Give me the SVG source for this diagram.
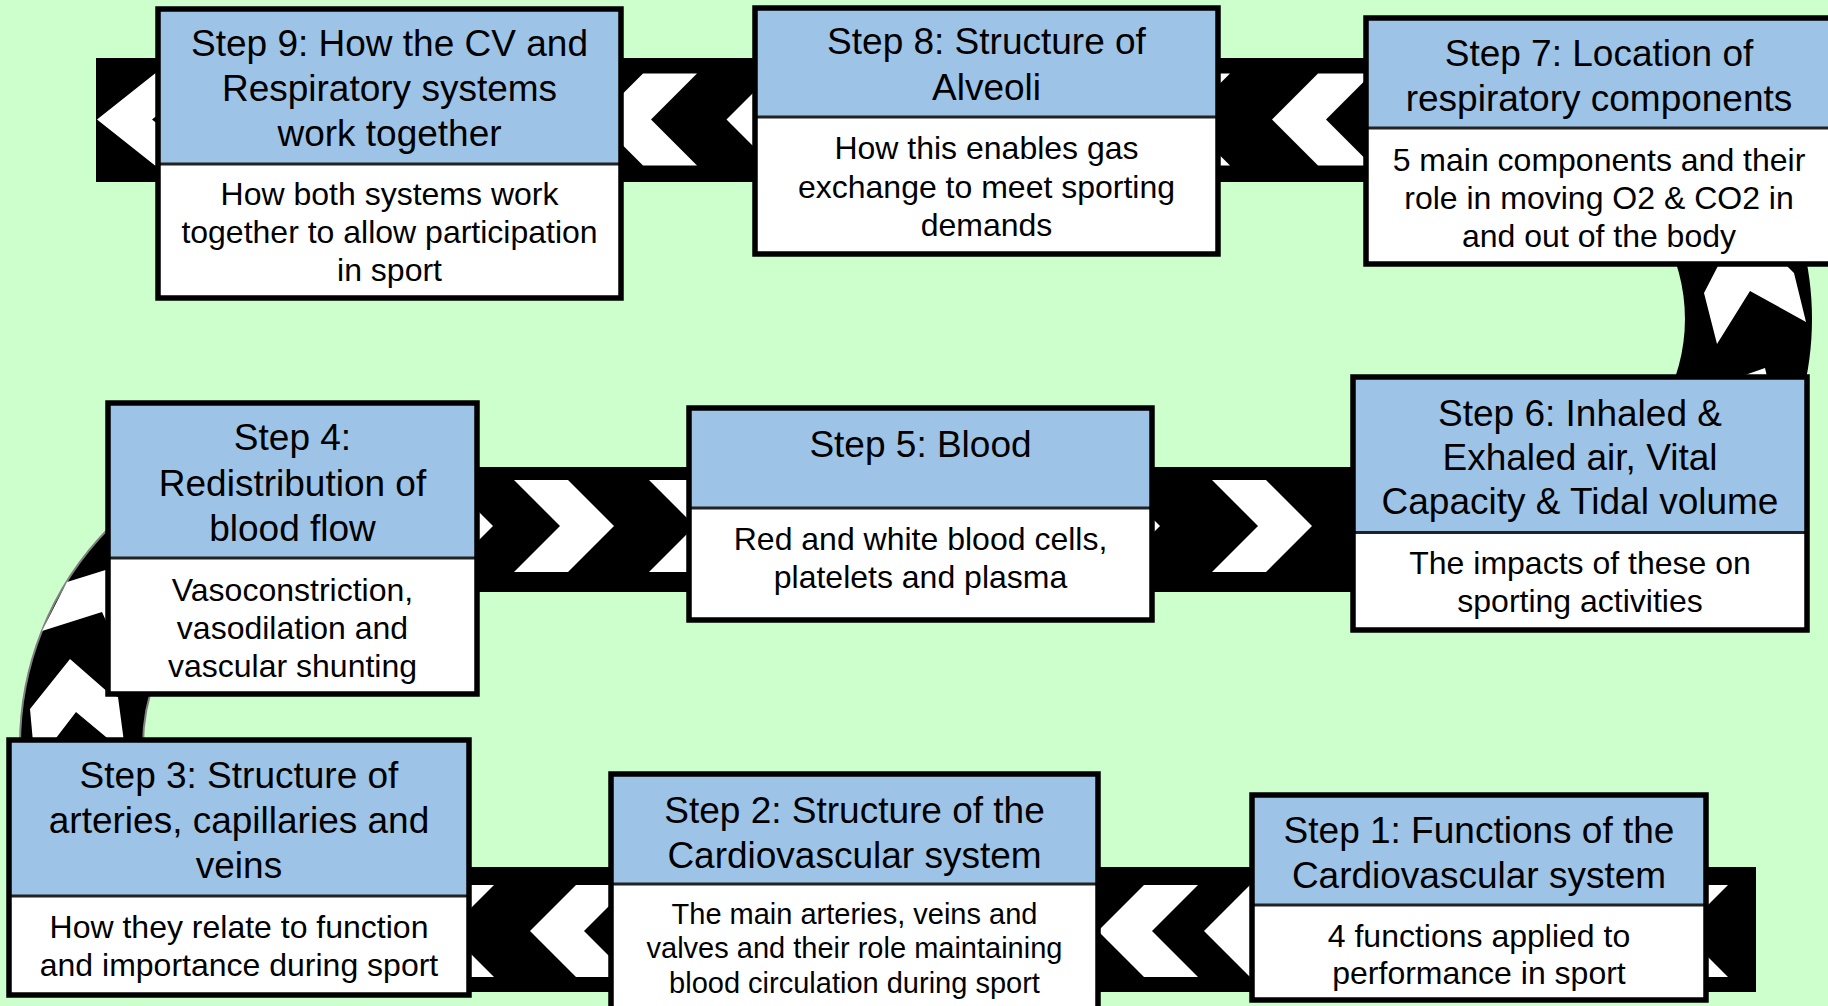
<svg xmlns="http://www.w3.org/2000/svg" width="1828" height="1006" viewBox="0 0 1828 1006">
<defs>
<style>
.band{fill:#000}
.chev{fill:#fff}
.arcg{fill:#000;stroke:#808080;stroke-width:2}
.hd{fill:#9DC3E6}
.bd{fill:#fff}
.sep{stroke:#222;stroke-width:3}
.frame{fill:none;stroke:#000;stroke-width:5.5}
.t{font-family:"Liberation Sans",Arial,sans-serif;font-size:37px;text-anchor:middle;fill:#000}
.b{font-family:"Liberation Sans",Arial,sans-serif;font-size:32px;text-anchor:middle;fill:#000}
.bs{font-size:29px}
</style>
</defs>
<rect width="1828" height="1006" fill="#CCFFCC"/>
<g id="connectors">
  <rect class="band" x="96" y="58" width="1290" height="124"/>
  <polygon class="chev" points="97,119.5 155,73.5 210,73.5 152,119.5 210,165.5 155,165.5"/>
  <polygon class="chev" points="597,119.5 643,73.5 697,73.5 651,119.5 697,165.5 643,165.5"/>
  <polygon class="chev" points="726.5,119.5 772.5,73.5 826.5,73.5 780.5,119.5 826.5,165.5 772.5,165.5"/>
  <polygon class="chev" points="1130,119.5 1176,73.5 1230,73.5 1184,119.5 1230,165.5 1176,165.5"/>
  <polygon class="chev" points="1272,119.5 1318,73.5 1372,73.5 1326,119.5 1372,165.5 1318,165.5"/>
  <path class="band" d="M 1659 54 A 306 306 0 0 1 1659 584 L 1595.5 474 A 179 179 0 0 0 1595.5 164 Z"/>
  <polygon class="chev" points="1720,262 1783,262 1794,273 1806,322 1750,291 1717,344 1704,293"/>
  <polygon class="chev" points="1728,381 1765,368 1768,381"/>
  <rect class="band" x="470" y="467" width="890" height="125"/>
  <polygon class="chev" points="393,480 447,480 493,526 447,572 393,572 439,526"/>
  <polygon class="chev" points="514,480 568,480 614,526 568,572 514,572 560,526"/>
  <polygon class="chev" points="649,480 703,480 749,526 703,572 649,572 695,526"/>
  <polygon class="chev" points="1060,480 1114,480 1160,526 1114,572 1060,572 1106,526"/>
  <polygon class="chev" points="1212,480 1266,480 1312,526 1266,572 1212,572 1258,526"/>
  <path class="arcg" d="M 20 745 A 309 309 0 0 1 329 436 L 329 559 A 186 186 0 0 0 143 745 Z"/>
  <polygon class="chev" points="67,582 112,568 112,634 102,612 42,631"/>
  <polygon class="chev" points="70,659 110,694 118,697 124,742 112,742 76,712 53,742 33,742 30,709"/>
  <rect class="band" x="400" y="867" width="1356" height="125"/>
  <polygon class="chev" points="394,931 440,885 494,885 448,931 494,977 440,977"/>
  <polygon class="chev" points="530,931 576,885 630,885 584,931 630,977 576,977"/>
  <polygon class="chev" points="1098,931 1144,885 1198,885 1152,931 1198,977 1144,977"/>
  <polygon class="chev" points="1204,931 1250,885 1304,885 1258,931 1304,977 1250,977"/>
  <polygon class="chev" points="1628,931 1674,885 1728,885 1682,931 1728,977 1674,977"/>
</g>

<g id="step9">
  <rect class="hd" x="158" y="9" width="463" height="155"/>
  <rect class="bd" x="158" y="164" width="463" height="134"/>
  <line class="sep" x1="158" y1="164" x2="621" y2="164"/>
  <rect class="frame" x="158" y="9" width="463" height="289"/>
  <text class="t" x="389.5" y="56">Step 9: How the CV and</text>
  <text class="t" x="389.5" y="101">Respiratory systems</text>
  <text class="t" x="389.5" y="146">work together</text>
  <text class="b" x="389.5" y="205">How both systems work</text>
  <text class="b" x="389.5" y="243">together to allow participation</text>
  <text class="b" x="389.5" y="281">in sport</text>
</g>

<g id="step8">
  <rect class="hd" x="755" y="8" width="463" height="109"/>
  <rect class="bd" x="755" y="117" width="463" height="137"/>
  <line class="sep" x1="755" y1="117" x2="1218" y2="117"/>
  <rect class="frame" x="755" y="8" width="463" height="246"/>
  <text class="t" x="986.5" y="54">Step 8: Structure of</text>
  <text class="t" x="986.5" y="100">Alveoli</text>
  <text class="b" x="986.5" y="159">How this enables gas</text>
  <text class="b" x="986.5" y="197.5">exchange to meet sporting</text>
  <text class="b" x="986.5" y="235.5">demands</text>
</g>

<g id="step7">
  <rect class="hd" x="1366" y="18" width="466" height="110"/>
  <rect class="bd" x="1366" y="128" width="466" height="136"/>
  <line class="sep" x1="1366" y1="128" x2="1832" y2="128"/>
  <rect class="frame" x="1366" y="18" width="466" height="246"/>
  <text class="t" x="1599" y="66">Step 7: Location of</text>
  <text class="t" x="1599" y="111">respiratory components</text>
  <text class="b" x="1599" y="171">5 main components and their</text>
  <text class="b" x="1599" y="209">role in moving O2 &amp; CO2 in</text>
  <text class="b" x="1599" y="246.5">and out of the body</text>
</g>

<g id="step6">
  <rect class="hd" x="1353" y="377" width="454" height="155.5"/>
  <rect class="bd" x="1353" y="532.5" width="454" height="97.5"/>
  <line class="sep" x1="1353" y1="532.5" x2="1807" y2="532.5"/>
  <rect class="frame" x="1353" y="377" width="454" height="253"/>
  <text class="t" x="1580" y="425.5">Step 6: Inhaled &amp;</text>
  <text class="t" x="1580" y="470">Exhaled air, Vital</text>
  <text class="t" x="1580" y="514">Capacity &amp; Tidal volume</text>
  <text class="b" x="1580" y="574">The impacts of these on</text>
  <text class="b" x="1580" y="611.5">sporting activities</text>
</g>

<g id="step5">
  <rect class="hd" x="689" y="408" width="463" height="100"/>
  <rect class="bd" x="689" y="508" width="463" height="112"/>
  <line class="sep" x1="689" y1="508" x2="1152" y2="508"/>
  <rect class="frame" x="689" y="408" width="463" height="212"/>
  <text class="t" x="920.5" y="457">Step 5: Blood</text>
  <text class="b" x="920.5" y="550">Red and white blood cells,</text>
  <text class="b" x="920.5" y="588">platelets and plasma</text>
</g>

<g id="step4">
  <rect class="hd" x="108" y="403" width="369" height="155"/>
  <rect class="bd" x="108" y="558" width="369" height="136"/>
  <line class="sep" x1="108" y1="558" x2="477" y2="558"/>
  <rect class="frame" x="108" y="403" width="369" height="291"/>
  <text class="t" x="292.5" y="450">Step 4:</text>
  <text class="t" x="292.5" y="496">Redistribution of</text>
  <text class="t" x="292.5" y="541">blood flow</text>
  <text class="b" x="292.5" y="601">Vasoconstriction,</text>
  <text class="b" x="292.5" y="639">vasodilation and</text>
  <text class="b" x="292.5" y="676.5">vascular shunting</text>
</g>

<g id="step3">
  <rect class="hd" x="9" y="740" width="460" height="156"/>
  <rect class="bd" x="9" y="896" width="460" height="99"/>
  <line class="sep" x1="9" y1="896" x2="469" y2="896"/>
  <rect class="frame" x="9" y="740" width="460" height="255"/>
  <text class="t" x="239" y="788">Step 3: Structure of</text>
  <text class="t" x="239" y="833">arteries, capillaries and</text>
  <text class="t" x="239" y="878">veins</text>
  <text class="b" x="239" y="938">How they relate to function</text>
  <text class="b" x="239" y="976">and importance during sport</text>
</g>

<g id="step2">
  <rect class="hd" x="611" y="774" width="487" height="110"/>
  <rect class="bd" x="611" y="884" width="487" height="130"/>
  <line class="sep" x1="611" y1="884" x2="1098" y2="884"/>
  <rect class="frame" x="611" y="774" width="487" height="240"/>
  <text class="t" x="854.5" y="822.5">Step 2: Structure of the</text>
  <text class="t" x="854.5" y="867.5">Cardiovascular system</text>
  <text class="b bs" x="854.5" y="923.5">The main arteries, veins and</text>
  <text class="b bs" x="854.5" y="958">valves and their role maintaining</text>
  <text class="b bs" x="854.5" y="993">blood circulation during sport</text>
</g>

<g id="step1">
  <rect class="hd" x="1252" y="795" width="454" height="110"/>
  <rect class="bd" x="1252" y="905" width="454" height="95"/>
  <line class="sep" x1="1252" y1="905" x2="1706" y2="905"/>
  <rect class="frame" x="1252" y="795" width="454" height="205"/>
  <text class="t" x="1479" y="842.5">Step 1: Functions of the</text>
  <text class="t" x="1479" y="887.5">Cardiovascular system</text>
  <text class="b" x="1479" y="947">4 functions applied to</text>
  <text class="b" x="1479" y="984">performance in sport</text>
</g>
</svg>
